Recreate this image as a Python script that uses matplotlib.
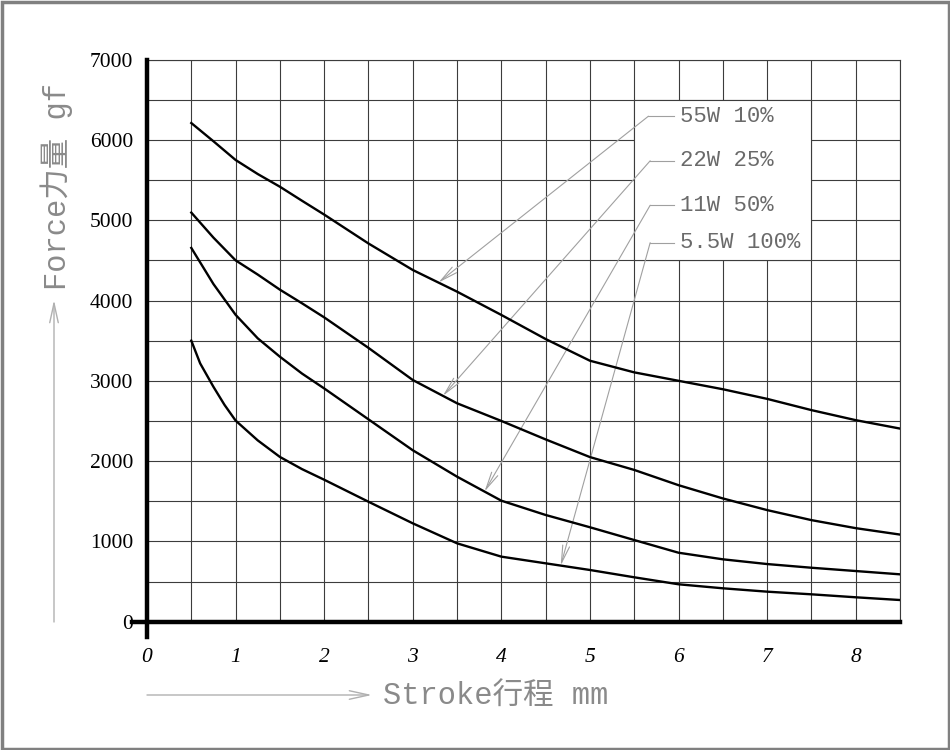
import numpy as np
import matplotlib
matplotlib.use('Agg')
import matplotlib.pyplot as plt
from matplotlib.patches import Rectangle

# ---------------- data ----------------
stroke_a = [0.5, 0.75, 1.0, 1.25, 1.5, 1.75, 2.0, 2.5, 3.0, 3.5, 4.0, 4.5, 5.0, 5.5, 6.0, 6.5, 7.0, 7.5, 8.0, 8.5]
force_55w = [6210, 5983, 5750, 5575, 5417, 5242, 5070, 4710, 4380, 4110, 3820, 3520, 3250, 3105, 3000, 2895, 2775, 2635, 2510, 2405]
force_22w = [5095, 4783, 4500, 4323, 4135, 3965, 3790, 3410, 3010, 2720, 2500, 2270, 2050, 1890, 1700, 1535, 1390, 1265, 1165, 1085]
force_11w = [4655, 4205, 3822, 3529, 3300, 3090, 2905, 2520, 2135, 1806, 1507, 1329, 1176, 1017, 859, 777, 718, 672, 631, 590]
stroke_b = [0.5, 0.6, 0.75, 0.875, 1.0, 1.25, 1.5, 1.75, 2.0, 2.5, 3.0, 3.5, 4.0, 4.5, 5.0, 5.5, 6.0, 6.5, 7.0, 7.5, 8.0, 8.5]
force_5w5 = [3500, 3217, 2925, 2700, 2505, 2258, 2052, 1900, 1768, 1494, 1225, 976, 810, 727, 644, 553, 466, 416, 374, 341, 304, 270]

series_labels = ['55W 10%', '22W 25%', '11W 50%', '5.5W 100%']
x_tick_labels = ['0', '1', '2', '3', '4', '5', '6', '7', '8']
y_tick_values = [0, 1000, 2000, 3000, 4000, 5000, 6000, 7000]
x_label = 'Stroke行程 mm'
y_label = 'Force力量 gf'

# ---------------- figure ----------------
W, H = 950, 750
fig = plt.figure(figsize=(W / 100, H / 100), dpi=100)
fig.patch.set_facecolor('white')

ax_l, ax_r, ax_t, ax_b = 147, 900, 59.6, 621.7
ax = fig.add_axes([ax_l / W, 1 - ax_b / H, (ax_r - ax_l) / W, (ax_b - ax_t) / H])
ax.set_xlim(0, 8.5)
ax.set_ylim(0, 7000)

grid_col = '#3c3c3c'
ax.set_xticks(range(0, 9))
ax.set_xticklabels(x_tick_labels)
ax.set_xticks(np.arange(0, 8.51, 0.5), minor=True)
ax.set_yticks(y_tick_values)
ax.set_yticks(np.arange(0, 7001, 500), minor=True)
ax.set_axisbelow(True)
ax.grid(which='both', color=grid_col, lw=0.8)
ax.tick_params(which='both', length=0)
ax.tick_params(axis='y', pad=10)
ax.tick_params(axis='x', pad=19)

for lbl in ax.get_yticklabels():
    lbl.set_fontfamily('Liberation Serif')
    lbl.set_fontsize(15.5)
for lbl in ax.get_xticklabels():
    lbl.set_fontfamily('Liberation Serif')
    lbl.set_fontstyle('italic')
    lbl.set_fontsize(15.5)

for s in ['left', 'bottom']:
    ax.spines[s].set_visible(False)
for s in ['top', 'right']:
    ax.spines[s].set_color(grid_col)
    ax.spines[s].set_linewidth(0.8)

# thick axis lines extending past the origin
ax.axvline(0, ymin=-0.027, ymax=1.0, color='black', lw=3.2, clip_on=False, zorder=5)
ax.axhline(0, xmin=-0.0205, xmax=1.0, color='black', lw=3.2, clip_on=False, zorder=5)

# white box behind the labels
ax.add_patch(Rectangle((5.5, 4500), 2.0, 2000, facecolor='white', edgecolor=grid_col,
                       lw=0.8, zorder=1))

# curves
curve_x = [stroke_a, stroke_a, stroke_a, stroke_b]
curve_y = [force_55w, force_22w, force_11w, force_5w5]
for xs, ys in zip(curve_x, curve_y):
    ax.plot(xs, ys, color='black', lw=1.7, zorder=4, solid_joinstyle='round')

# leader lines and labels
label_y = [6295, 5740, 5186, 4720]
leader_x0 = [5.66, 5.68, 5.68, 5.68]
leader_x1 = 5.95
tip_x = [3.29, 3.34, 3.81, 4.67]
lead_col = '#a0a0a0'
for lab, ly, lx0, tx, xs, ys in zip(series_labels, label_y, leader_x0, tip_x, curve_x, curve_y):
    ty = np.interp(tx, xs, ys)
    ax.plot([lx0, leader_x1], [ly, ly], color=lead_col, lw=0.8, zorder=3)
    ax.annotate('', xy=(tx, ty), xytext=(lx0, ly),
                arrowprops=dict(arrowstyle='->,head_length=0.9,head_width=0.18',
                                color=lead_col, lw=0.8, shrinkA=0, shrinkB=0,
                                mutation_scale=14),
                zorder=3)
    ax.text(6.02, ly, lab, ha='left', va='center', fontsize=16,
            family=['Liberation Mono', 'Noto Sans CJK SC'], color='#6a6a6a', zorder=4)

# axis titles with arrows (figure pixel coordinates)
lab_col = '#8a8a8a'
fig.add_artist(matplotlib.patches.FancyArrowPatch(
    (147, H - 695), (372, H - 695), transform=None,
    arrowstyle='->,head_length=1.0,head_width=0.22', mutation_scale=14,
    color='#b0b0b0', lw=1.0, shrinkA=0, shrinkB=0))
fig.text(383 / W, 1 - 697 / H, x_label, ha='left', va='center', fontsize=22,
         family=['Liberation Mono', 'Noto Sans CJK SC'], color=lab_col)

fig.add_artist(matplotlib.patches.FancyArrowPatch(
    (54, H - 622), (54, H - 300), transform=None,
    arrowstyle='->,head_length=1.0,head_width=0.22', mutation_scale=14,
    color='#b0b0b0', lw=1.0, shrinkA=0, shrinkB=0))
fig.text(57 / W, 1 - 186 / H, y_label, ha='center', va='center', rotation=90, fontsize=22,
         family=['Liberation Mono', 'Noto Sans CJK SC'], color=lab_col)

# grey frame around the picture
fig.add_artist(Rectangle((1.5, 1.5), W - 3, H - 3, transform=None, facecolor='none',
                         edgecolor='#808080', lw=2.5))

fig.savefig('out.png', dpi=100)
